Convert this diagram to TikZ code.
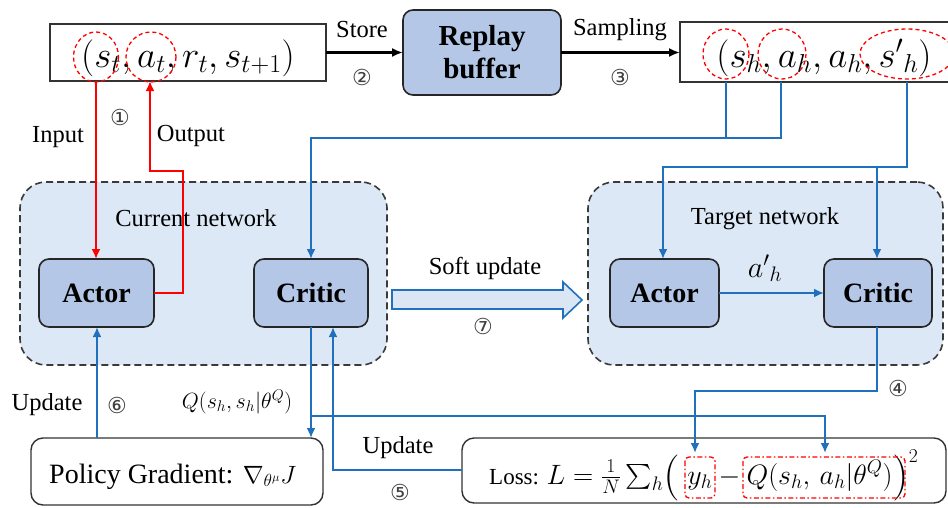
\RequirePackage{fix-cm}
\documentclass[tikz,border=0pt]{standalone}
\usepackage{exscale}
\usepackage{fontspec}
\setmainfont{Liberation Serif}
\newfontfamily\circfont{DejaVu Sans}
\usetikzlibrary{arrows.meta}
\definecolor{boxfill}{HTML}{B4C7E7}
\definecolor{netfill}{HTML}{DCE8F5}
\definecolor{lblue}{HTML}{2170BE}
\definecolor{netedge}{HTML}{3A3A3A}
\definecolor{arrowfill}{HTML}{DAE6F4}
\newcommand\myparen[1]{\raisebox{-5pt}{\fontsize{46}{50}\selectfont$#1$}}
\tikzset{
  lbl/.style={font=\fontsize{24.5}{28}\selectfont, inner sep=0pt},
  num/.style={font=\circfont\fontsize{22}{24}\selectfont, text=black!75, inner sep=0pt},
  netbox/.style={draw=netedge, fill=netfill, line width=1.6pt, dash pattern=on 7pt off 4pt, rounded corners=26pt, inner sep=0pt, outer sep=0pt},
  block/.style={draw=black!85, fill=boxfill, line width=1.6pt, rounded corners=10pt, font=\bfseries\fontsize{28}{31}\selectfont, inner sep=0pt, outer sep=0pt, align=center},
  plainbox/.style={draw=black!80, fill=white, line width=1.4pt, inner sep=0pt, outer sep=0pt},
  roundbox/.style={plainbox, rounded corners=12pt},
  blk/.style={line width=2.2pt, -{Latex[length=11pt,width=9pt]}},
  redl/.style={red, line width=2.6pt},
  redarr/.style={redl, -{Latex[length=10pt,width=9pt]}},
  bluel/.style={lblue, line width=2.4pt},
  bluearr/.style={bluel, -{Latex[length=10pt,width=9pt]}},
  redcirc/.style={red, line width=1.3pt, dash pattern=on 4pt off 3pt},
  reddd/.style={red, line width=1.3pt, dash pattern=on 5pt off 2.5pt on 1.5pt off 2.5pt, rounded corners=4pt},
}
\begin{document}
\begin{tikzpicture}[x=1pt,y=-1pt]
\useasboundingbox (0,0) rectangle (948,507);
\clip (0,0) rectangle (948,507);
\fill[white] (0,0) rectangle (948,507);

% network backgrounds
\node[netbox, minimum width=367pt, minimum height=183pt] (curnet) at (203.5,273.5) {};
\node[netbox, minimum width=355pt, minimum height=183pt] (tarnet) at (765.5,273.5) {};
\node[lbl] (curlbl) at (196,218) {Current network};
\node[lbl] (tarlbl) at (765,219) {Target network};

% top row
\node[plainbox, minimum width=276pt, minimum height=57pt] (top1) at (188,52.5) {};
\node[font=\fontsize{37}{41}\selectfont, inner sep=0pt, anchor=base] (top1txt) at (188,67) {$(s_t, a_t, r_t, s_{t+1})$};
\node[block, font=\bfseries\fontsize{29}{32}\selectfont, minimum width=158pt, minimum height=85pt] (replay) at (482,52.5) {Replay\\[1pt]buffer};
\node[plainbox, minimum width=300pt, minimum height=60pt] (top2) at (830,52) {};
\node[font=\fontsize{37}{41}\selectfont, inner sep=0pt, anchor=base] (top2txt) at (824,67) {$(s_h, a_h, a_h, {s'}_h)$};

\draw[redcirc] (96,57) ellipse [x radius=22.5, y radius=25];
\draw[redcirc] (151,57) ellipse [x radius=25, y radius=25];
\draw[redcirc] (726,54) ellipse [x radius=23, y radius=25];
\draw[redcirc] (782,54) ellipse [x radius=24, y radius=25];
\draw[redcirc] (907,54) ellipse [x radius=47, y radius=25];

\draw[blk] (top1.east) -- (replay.west);
\draw[blk] (replay.east) -- (top2.west |- replay.east);
\node[lbl] (store) at (362,30) {Store};
\node[num] (n2) at (362,77) {②};
\node[lbl] (sampl) at (620,30) {Sampling};
\node[num] (n3) at (620,77) {③};

% current network blocks
\node[block, minimum width=115pt, minimum height=68pt] (cActor) at (96.5,293) {Actor};
\node[block, minimum width=114pt, minimum height=68pt] (cCritic) at (311,293) {Critic};
% target network blocks
\node[block, minimum width=109pt, minimum height=68pt] (tActor) at (664.5,293) {Actor};
\node[block, minimum width=108pt, minimum height=68pt] (tCritic) at (878,293) {Critic};

% bottom boxes
\node[roundbox, minimum width=292pt, minimum height=67pt] (pg) at (177,471.5) {};
\node[font=\fontsize{28}{32}\selectfont, inner sep=0pt, anchor=base west] (pgtxt) at (49,483) {Policy Gradient: {\fontsize{25}{28}\selectfont$\nabla_{\theta^\mu} J$}};
\node[roundbox, minimum width=484pt, minimum height=65pt] (loss) at (704,470.5) {};
\node[font=\fontsize{23}{28}\selectfont, inner sep=0pt, anchor=base west] (losstxt) at (489,484) {Loss: {\fontsize{28}{32}\selectfont$L=\frac{1}{N}\sum\nolimits_h\mathopen{\myparen{(}}\;y_h-Q(s_h,\,a_h|\theta^Q)\mathclose{\myparen{)}}^{2}$}};
\draw[reddd] (685,457) rectangle (715,498);
\draw[reddd] (743,457) rectangle (905,498);

% coordinates
\coordinate (sh) at (726,82);
\coordinate (ah) at (781,82);
\coordinate (sph) at (907,82);
\coordinate (st) at (96,81);
\coordinate (at) at (150,81);
\coordinate (yh) at (695,453);
\coordinate (qq) at (825,453);

% red connectors
\draw[redarr] (st) -- (cActor.north -| st);
\draw[redarr] (cActor.east) -- (183,293) -- (183,171) -- (150,171) -- (at);
\node[lbl] (inlbl) at (58,137) {Input};
\node[lbl] (outlbl) at (191,136) {Output};
\node[num] (n1) at (120,117) {①};

% blue connectors from sample
\draw[bluel] (sh) -- (726,138);
\draw[bluearr] (ah) -- (781,138) -- (311,138) -- (cCritic.north);
\draw[bluearr] (sph) -- (907,167) -- (663,167) -- (tActor.north -| 663,0);
\draw[bluearr] (877,167) -- (tCritic.north -| 877,0);

% target actor to critic
\draw[bluearr] (tActor.east) -- (tCritic.west);
\node[font=\fontsize{30}{34}\selectfont, inner sep=0pt] (aph) at (765,268) {${a'}_h$};

% target critic to loss
\draw[bluearr] (tCritic.south -| 877,0) -- (877,391) -- (695,391) -- (yh);
\node[num] (n4) at (898,388) {④};

% current critic to PG and loss
\draw[bluearr] (cCritic.south) -- (pg.north -| cCritic.south);
\draw[bluearr] (311,416) -- (825,416) -- (qq);
\node[font=\fontsize{22}{26}\selectfont, inner sep=0pt] (qlbl) at (237,402) {$Q(s_h, s_h|\theta^Q)$};

% loss update critic
\draw[bluearr] (loss.west |- 0,470) -- (333,470) -- (cCritic.south -| 333,0);
\node[lbl] (upd5) at (398,448) {Update};
\node[num] (n5) at (400,492) {⑤};

% PG update actor
\draw[bluearr] (pg.north -| 97,0) -- (cActor.south -| 97,0);
\node[lbl] (upd6) at (47,405) {Update};
\node[num] (n6) at (117,405) {⑥};

% soft update arrow
\draw[lblue, fill=arrowfill, line width=1.6pt, line join=miter] (392,290) -- (563,290) -- (563,282) -- (582,300) -- (563,318) -- (563,309) -- (392,309) -- cycle;
\node[lbl] (soft) at (485,268) {Soft update};
\node[num] (n7) at (483,326) {⑦};
\end{tikzpicture}
\end{document}
